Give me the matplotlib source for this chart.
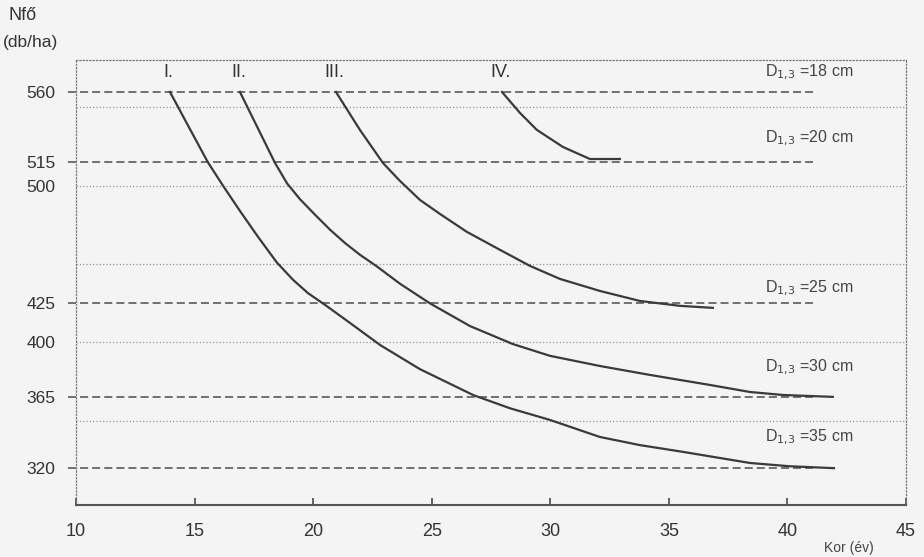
import matplotlib
matplotlib.use("Agg")
import matplotlib.pyplot as plt

plt.rcParams['font.family'] = ['Liberation Sans', 'DejaVu Sans']
plt.rcParams['mathtext.fontset'] = 'custom'
plt.rcParams['mathtext.rm'] = 'Liberation Sans Narrow'
plt.rcParams['mathtext.it'] = 'Liberation Sans Narrow'
plt.rcParams['lines.scale_dashes'] = False

# curve data: age (év) and stems per hectare
age_1 = [13.96, 14.81, 15.56, 16.20, 16.91, 17.67, 18.47, 19.15, 19.78, 20.50, 21.55, 22.82,
         24.50, 26.74, 28.30, 29.98, 32.09, 33.78, 35.59, 38.42, 40.10, 41.96]
n_1 = [559.9, 536.0, 515.0, 500.0, 484.0, 467.5, 451.0, 440.0, 431.5, 424.0, 412.5, 398.4,
       383.0, 366.5, 358.0, 350.6, 339.7, 334.5, 330.2, 323.1, 321.0, 319.8]

age_2 = [16.91, 18.39, 18.90, 19.44, 20.08, 20.71, 21.34, 21.97, 22.69, 23.66, 24.92, 26.61,
         28.42, 29.98, 32.09, 34.20, 36.73, 38.42, 39.81, 41.91]
n_2 = [559.9, 514.6, 501.5, 491.5, 481.5, 472.0, 463.5, 456.0, 448.5, 437.5, 425.0, 410.5,
       399.0, 391.5, 385.0, 379.3, 372.9, 368.4, 366.5, 365.3]

age_3 = [20.96, 21.97, 22.94, 23.66, 24.50, 25.35, 26.48, 27.88, 29.14, 30.40, 32.09, 33.78,
         35.46, 36.85]
n_3 = [559.9, 535.7, 514.6, 503.1, 491.0, 482.0, 470.6, 459.1, 448.9, 440.6, 432.9, 426.5,
       423.4, 422.1]

age_4 = [27.96, 28.72, 29.43, 30.53, 31.67, 32.93]
n_4 = [559.9, 546.5, 535.7, 524.8, 517.1, 517.1]

curve_names = ['I.', 'II.', 'III.', 'IV.']
dash_levels = [560, 515, 425, 365, 320]
dot_levels = [350, 400, 450, 500, 550]
y_ticks = [560, 515, 500, 425, 400, 365, 320]
x_ticks = [10, 15, 20, 25, 30, 35, 40, 45]
d_labels = ['18', '20', '25', '30', '35']
d_label_y = [572.7, 530.6, 434.8, 384.4, 339.7]

BG = '#f4f4f4'
INK = '#3a3a3a'
GRAY = '#666666'

fig = plt.figure(figsize=(9.24, 5.57), dpi=100, facecolor=BG)
ax = fig.add_axes([0.0823, 0.0934, 0.8983, 0.7989], facecolor=BG)
ax.set_xlim(10, 45)
ax.set_ylim(296.3, 580.3)

# reference levels
for lv in dot_levels:
    ax.axhline(lv, color='#8a8a8a', lw=0.9, ls=(0, (0.8, 1.6)), zorder=1)
for lv in dash_levels:
    ax.plot([9.66, 41.07], [lv, lv], color=GRAY, lw=1.3,
            ls=(0, (5.8, 2.9)), clip_on=False, zorder=2)

# curves
curves = [(age_1, n_1), (age_2, n_2), (age_3, n_3), (age_4, n_4)]
for (xs, ys), name in zip(curves, curve_names):
    ax.plot(xs, ys, color=INK, lw=1.6, zorder=3, solid_joinstyle='round')
    ax.annotate(name, (xs[0], ys[0]), xytext=(-1, 8), textcoords='offset points',
                ha='center', va='bottom', fontsize=13, color='#333333')

# diameter labels
for d, y in zip(d_labels, d_label_y):
    ax.text(39.05, y, r'D$_{\mathrm{1{,}3}}$ =' + d + ' cm', fontsize=11.5,
            family=['Liberation Sans Narrow', 'Liberation Sans'],
            color='#444444', va='center', ha='left')

# axes styling
for side in ['left', 'right', 'top']:
    ax.spines[side].set_linestyle((0, (0.8, 1.6)))
    ax.spines[side].set_color('#777777')
    ax.spines[side].set_linewidth(0.9)
ax.spines['bottom'].set_color('#555555')
ax.spines['bottom'].set_linewidth(1.5)

ax.set_yticks(y_ticks)
ax.set_yticklabels([str(v) for v in y_ticks])
ax.tick_params(axis='y', length=0, pad=15, labelsize=12.5, labelcolor='#333333')
ax.set_xticks(x_ticks)
ax.tick_params(axis='x', direction='in', length=5, width=1.3, color='#555555',
               pad=13, labelsize=13, labelcolor='#333333')

fig.text(8 / 924, 1 - 16 / 557, 'Nfő', fontsize=13, color='#333333', va='center', ha='left')
fig.text(3 / 924, 1 - 43 / 557, '(db/ha)', fontsize=12.5, color='#333333', va='center', ha='left')
fig.text(824 / 924, 1 - 548 / 557, 'Kor (év)', fontsize=10, color='#444444', va='center', ha='left')

fig.savefig('out.png', dpi=100, facecolor=BG)
